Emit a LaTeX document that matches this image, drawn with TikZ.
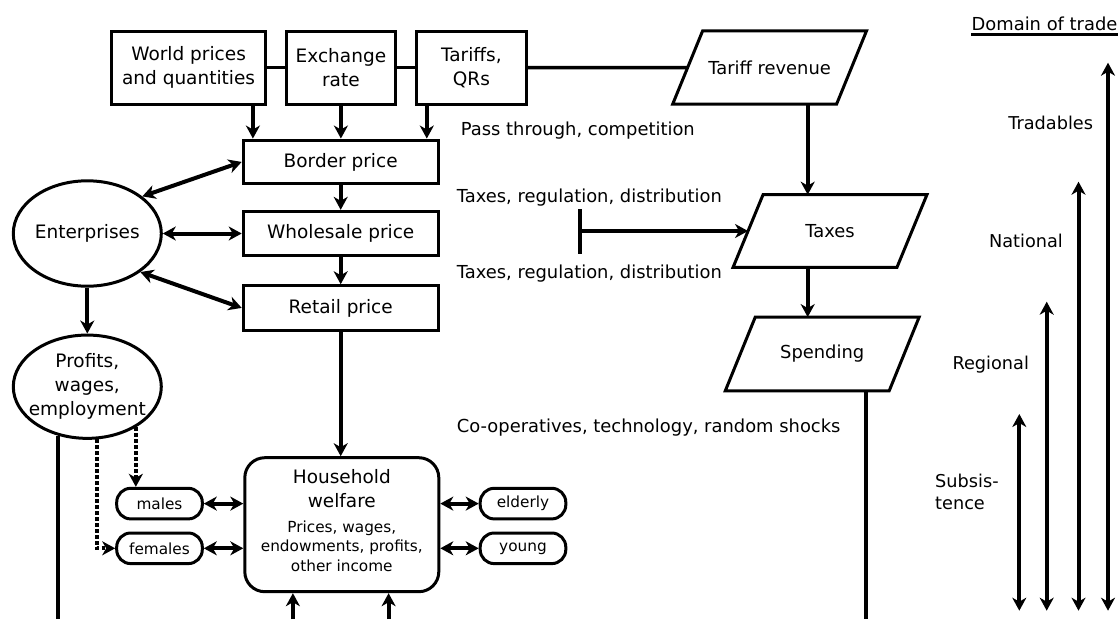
\documentclass[tikz,border=0pt]{standalone}
\usepackage{fontspec}
\setmainfont{DejaVu Sans}
\usetikzlibrary{arrows.meta,shapes.geometric,calc}
\begin{document}
\begin{tikzpicture}[x=1pt,y=-1pt,
  txt/.style={font=\fontsize{18.5}{24}\selectfont, inner sep=0pt},
  note/.style={font=\fontsize{17.9}{24}\selectfont, inner sep=0pt},
  scale label/.style={font=\fontsize{17.7}{22}\selectfont, inner sep=0pt},
  smalltxt/.style={font=\fontsize{15.3}{19.3}\selectfont, inner sep=0pt},
  box/.style={draw, line width=3pt, rectangle, inner sep=0pt, align=center, txt},
  oval/.style={draw, line width=3pt, ellipse, inner sep=0pt, align=center, txt, minimum width=148pt},
  para/.style={rectangle, minimum width=163.5pt, inner sep=0pt, note},
  pill/.style={draw, line width=3pt, rounded corners=14pt, minimum width=85.6pt, minimum height=30.6pt,
    inner sep=0pt, font=\fontsize{15.3}{18}\selectfont},
  hhbox/.style={draw, line width=3pt, rounded corners=20pt, minimum width=194pt, minimum height=134pt},
  tipx/.tip={Stealth[length=13pt,width=14pt,inset=4pt]},
  link/.style={line width=3.5pt},
  arr/.style={line width=4pt, -tipx},
  darr/.style={line width=4pt, tipx-tipx},
  dotarr/.style={line width=4pt, dash pattern=on 3.5pt off 2.5pt, -tipx},
]
\fill[white] (0,0) rectangle (1118,619);
\useasboundingbox (0,0) rectangle (1118,619);

% top row
\node[box, minimum width=153.6pt, minimum height=73.3pt] (wp) at (188.6,67.7) {World prices\\and quantities};
\node[box, minimum width=109.7pt, minimum height=73.3pt] (ex) at (340.9,67.7) {Exchange\\rate};
\node[box, minimum width=109.2pt, minimum height=73.3pt] (tq) at (471.4,67.7) {Tariffs,\\QRs};
\node[para, minimum height=73pt] (tr) at (769.6,67.5) {Tariff revenue};

% price chain
\node[box, minimum width=195pt, minimum height=43.7pt] (bp) at (340.7,161.9) {Border price};
\node[box, minimum width=195pt, minimum height=44.3pt] (wh) at (340.7,233.5) {Wholesale price};
\node[box, minimum width=195pt, minimum height=44.3pt] (rp) at (340.7,307.9) {Retail price};

% enterprises
\node[oval, minimum height=105.4pt] (ent) at (87.3,233.5) {\makebox[0pt]{Enterprises}};
\node[oval, minimum height=103.3pt] (prof) at (87.3,386.7) {Profits,\\wages,\\\makebox[0pt]{employment}};

% household
\node[hhbox] (hh) at (341.8,524.7) {};
\node[txt, align=center] (hht) at (341.8,488.3) {Household\\welfare};
\node[smalltxt, align=center] (hhs) at (341.8,546) {Prices, wages,\\endowments, profits,\\other income};
\node[pill] (males) at (159.5,503.6) {males};
\node[pill] (fem) at (159.5,548.3) {females};
\node[pill] (eld) at (523,503.6) {elderly};
\node[pill] (yng) at (523,548.3) {young};

% government
\node[para, minimum height=72.3pt] (tax) at (830,231) {Taxes};
\node[para, minimum height=73.4pt] (sp) at (822.2,354) {Spending};
\foreach \n in {tr,tax,sp}
  \draw[line width=3pt, line join=miter]
    ($(\n.south west)+(-15,0)$) -- ($(\n.south east)+(-15,0)$) --
    ($(\n.north east)+(15,0)$) -- ($(\n.north west)+(15,0)$) -- cycle;

% side notes
\node[note, anchor=base west] (n1) at (460.7,135.7) {Pass through, competition};
\node[note, anchor=base west] (n2) at (456.7,202.4) {Taxes, regulation, distribution};
\node[note, anchor=base west] (n3) at (456.7,278.1) {Taxes, regulation, distribution};
\node[note, anchor=base west] (n4) at (456.7,432.4) {Co-operatives, technology, random shocks};

% domain of trade scale
\node[note] (dom) at (1044.5,24) {Domain of trade};
\node[scale label, anchor=base] (lt) at (1050.7,129) {Tradables};
\node[scale label, anchor=base] (ln) at (1026,247) {National};
\node[scale label, anchor=base] (lr) at (990.7,369) {Regional};
\node[scale label, align=left, anchor=west] (ls) at (935,492) {Subsis-\\tence};

% helper coordinates
\coordinate (xa) at (252.9,0);
\coordinate (xc) at (426.8,0);
\coordinate (xt) at (807.7,0);
\coordinate (xs) at (865.7,619);
\coordinate (pl) at (58.3,619);
\coordinate (b1) at (292.9,619);
\coordinate (b2) at (388.6,619);
\coordinate (inh) at (578.3,231);

% top links
\draw[link] (wp.east) -- (ex.west);
\draw[link] (ex.east) -- (tq.west);
\draw[link] (tq.east) -- (tr.west);

% into border price
\draw[arr] (wp.south -| xa) -- (bp.north -| xa);
\draw[arr] (ex.south) -- (ex.south |- bp.north);
\draw[arr] (tq.south -| xc) -- (bp.north -| xc);

% price chain
\draw[arr] (bp.south) -- (wh.north);
\draw[arr] (wh.south) -- (rp.north);
\draw[arr] (rp.south) -- (rp.south |- hh.north);

% enterprises links
\draw[darr] (ent.34) -- (bp.west);
\draw[darr] (ent.east) -- (ent.east -| wh.west);
\draw[darr] (ent.-36) -- (rp.west);
\draw[arr] (ent.south) -- (prof.north);
\draw[line width=4pt] (prof.239) -- (prof.239 |- pl);

% labour split
\draw[dotarr] (prof.-40) -- (prof.-40 |- males.north);
\draw[dotarr] (prof.-80) |- (fem.west);

% household links
\draw[darr] (males.east) -- (males.east -| hh.west);
\draw[darr] (fem.east) -- (fem.east -| hh.west);
\draw[darr] (hh.east |- eld.west) -- (eld.west);
\draw[darr] (hh.east |- yng.west) -- (yng.west);
\draw[arr] (b1) -- (b1 |- hh.south);
\draw[arr] (b2) -- (b2 |- hh.south);

% government links
\draw[arr] (tr.south -| xt) -- (tax.north -| xt);
\draw[arr] (tax.south -| xt) -- (sp.north -| xt);
\draw[line width=4pt] (sp.south -| xs) -- (xs);
\draw[line width=4pt, {Bar[width=45pt]}-tipx] (inh) -- (inh -| tax.west);

% domain of trade
\draw[line width=3pt] ($(dom.base west)+(0,4)$) -- ($(dom.base east)+(0,4)$);
\coordinate (d1) at (1019.3,414);
\coordinate (d2) at (1046.7,301.7);
\coordinate (d3) at (1078.5,181.7);
\coordinate (d4) at (1108,62.7);
\coordinate (e1) at (1019.3,610.7);
\coordinate (e2) at (1046.7,610.7);
\coordinate (e3) at (1078.5,610.7);
\coordinate (e4) at (1108,610.7);
\draw[darr] (e1) -- (d1);
\draw[darr] (e2) -- (d2);
\draw[darr] (e3) -- (d3);
\draw[darr] (e4) -- (d4);
\end{tikzpicture}
\end{document}
